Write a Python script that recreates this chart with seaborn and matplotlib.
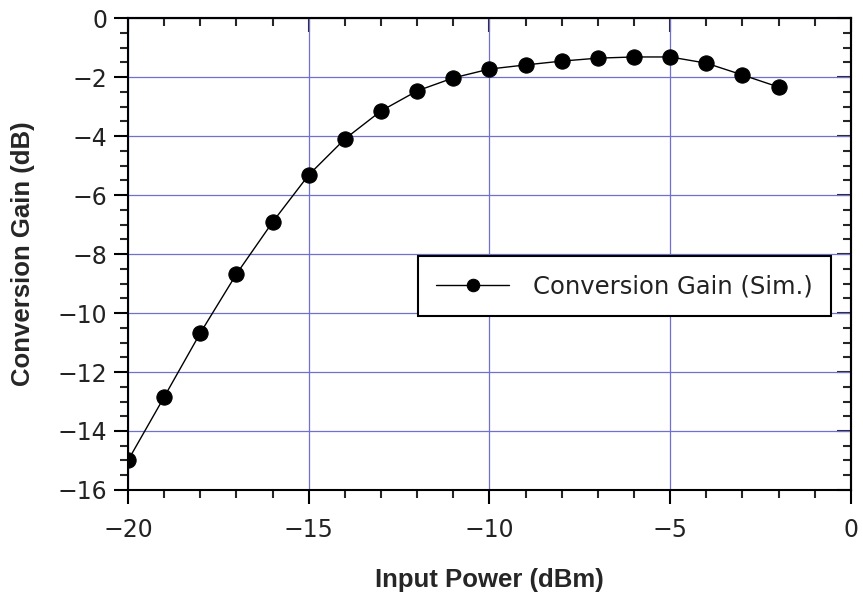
import matplotlib
matplotlib.use("Agg")
import matplotlib.pyplot as plt
from matplotlib.ticker import MultipleLocator
import seaborn as sns
import pandas as pd

# Simulated conversion gain versus input power
input_power_dbm = [-20, -19, -18, -17, -16, -15, -14, -13, -12, -11,
                   -10, -9, -8, -7, -6, -5, -4, -3, -2]
conversion_gain_db = [-15.00, -12.85, -10.68, -8.68, -6.92, -5.32, -4.10, -3.15,
                      -2.47, -2.03, -1.73, -1.59, -1.46, -1.36, -1.32, -1.32,
                      -1.53, -1.93, -2.34]
series_label = "Conversion Gain (Sim.)"

df = pd.DataFrame({"Input Power (dBm)": input_power_dbm,
                   "Conversion Gain (dB)": conversion_gain_db})

sns.set_style("ticks")
plt.rcParams["font.family"] = ["DejaVu Sans"]

fig = plt.figure(figsize=(8.63, 5.93), dpi=100)
ax = fig.add_axes([0.1483, 0.1737, 0.8377, 0.7959])

sns.lineplot(data=df, x="Input Power (dBm)", y="Conversion Gain (dB)",
             ax=ax, color="black", linewidth=1.0, marker="o",
             markersize=11, markeredgecolor="black", label=series_label)

ax.set_xlim(-20, 0)
ax.set_ylim(-16, 0)
ax.xaxis.set_major_locator(MultipleLocator(5))
ax.xaxis.set_minor_locator(MultipleLocator(1))
ax.yaxis.set_major_locator(MultipleLocator(2))
ax.yaxis.set_minor_locator(MultipleLocator(0.5))

ax.set_xticklabels([f"{v:g}".replace("-", "\u2212") for v in ax.get_xticks()])
ax.set_yticklabels([f"{v:g}".replace("-", "\u2212") for v in ax.get_yticks()])

ax.grid(True, which="major", color="#7070d0", linewidth=0.9)
ax.set_axisbelow(True)

for s in ax.spines.values():
    s.set_visible(True)
    s.set_linewidth(1.5)
    s.set_color("black")

# outward ticks on bottom/left, inward mirrored ticks on top/right
ax.tick_params(axis="both", which="major", direction="out", length=10, width=1.5,
               labelsize=17, colors="black")
ax.tick_params(axis="x", which="major", pad=10)
ax.tick_params(axis="y", which="major", pad=5)
ax.tick_params(axis="both", which="minor", direction="out", length=6, width=1.5)
ax.tick_params(which="both", top=False, right=False)
for lbl in ax.get_xticklabels() + ax.get_yticklabels():
    lbl.set_color("#222222")

top = ax.secondary_xaxis("top")
top.xaxis.set_major_locator(MultipleLocator(5))
top.xaxis.set_minor_locator(MultipleLocator(1))
top.tick_params(which="major", direction="in", length=10, width=1.5, labeltop=False)
top.tick_params(which="minor", direction="in", length=6, width=1.5)
top.spines["top"].set_linewidth(1.5)

right = ax.secondary_yaxis("right")
right.yaxis.set_major_locator(MultipleLocator(2))
right.yaxis.set_minor_locator(MultipleLocator(0.5))
right.tick_params(which="major", direction="in", length=10, width=1.5, labelright=False)
right.tick_params(which="minor", direction="in", length=6, width=1.5)
right.spines["right"].set_linewidth(1.5)

ax.set_xlabel("Input Power (dBm)", fontsize=18.5, fontweight="bold",
              family="Liberation Sans", labelpad=19)
ax.set_ylabel("Conversion Gain (dB)", fontsize=18.5, fontweight="bold",
              family="Liberation Sans", labelpad=16)

leg = ax.legend(loc="upper left", bbox_to_anchor=(0.401, 0.496), borderaxespad=0,
                fontsize=17.5, frameon=True, fancybox=False, handlelength=3.0,
                borderpad=0.75, handletextpad=1.0)
leg.get_frame().set_edgecolor("black")
leg.get_frame().set_linewidth(1.5)
leg.get_frame().set_alpha(1)
for t in leg.get_texts():
    t.set_color("#222222")
for h in leg.get_lines():
    h.set_markersize(9)

fig.savefig("out.png", dpi=100, facecolor="white")
